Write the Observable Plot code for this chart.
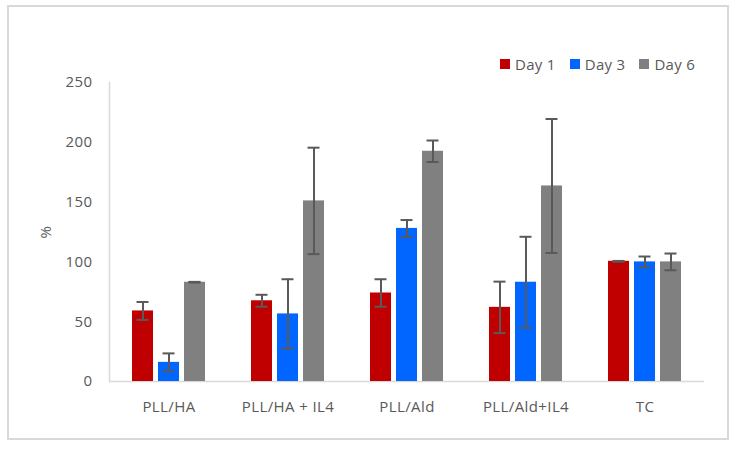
<!DOCTYPE html>
<html>
<head>
<meta charset="utf-8">
<script src="https://cdn.jsdelivr.net/npm/d3@7"></script>
<script src="https://cdn.jsdelivr.net/npm/@observablehq/plot@0.6"></script>
<style>
  body { margin: 0; background: #fff; font-family: "Open Sans", sans-serif; }
  #wrap { position: relative; width: 740px; height: 450px; }
  #border { position: absolute; left: 7px; top: 5px; width: 722px; height: 435px; border: 2px solid #d9d9d9; box-sizing: border-box; pointer-events: none; }
  #legend { position: absolute; top: 53px; left: 500px; display: flex; gap: 14px; font-size: 15px; letter-spacing: 0.3px; color: #595959; line-height: 22px; }
  #legend .item { display: flex; align-items: center; gap: 5px; }
  #legend .sw { width: 10px; height: 10px; display: inline-block; }
  svg text { letter-spacing: 0.4px; }
</style>
</head>
<body>
<div id="wrap"></div>
<script>
const groups = ["PLL/HA", "PLL/HA + IL4", "PLL/Ald", "PLL/Ald+IL4", "TC"];
const days = ["Day 1", "Day 3", "Day 6"];
const colors = ["#c00000", "#0066ff", "#808080"];
const day1 = [59, 67.5, 74, 62, 100.5];
const day3 = [16, 56.5, 128, 83, 100];
const day6 = [83, 151, 192.5, 163.5, 100];
const err1 = [7.5, 5, 11.5, 21.5, 0.3];
const err3 = [7.5, 29, 7, 38, 4.5];
const err6 = [0.3, 44.5, 9, 56, 7];
const yTicks = [0, 50, 100, 150, 200, 250];

const series = [day1, day3, day6];
const errs = [err1, err3, err6];
const rows = groups.flatMap((g, i) => days.map((d, j) => ({
  group: g, day: d, value: series[j][i], err: errs[j][i]
})));

const chart = Plot.plot({
  width: 740, height: 450,
  marginLeft: 107, marginRight: 34, marginTop: 82, marginBottom: 69,
  style: { fontFamily: "Open Sans, sans-serif", fontSize: "15px", color: "#595959", background: "transparent" },
  fx: { domain: groups, padding: 0, label: null },
  x: { domain: days, paddingInner: 0.21, paddingOuter: 0.87, axis: null },
  y: { domain: [0, 250] },
  color: { domain: days, range: colors },
  marks: [
    Plot.frame({ anchor: "left", facetAnchor: "left", stroke: "#d9d9d9", strokeWidth: 1.5 }),
    Plot.ruleY([0], { stroke: "#d9d9d9", strokeWidth: 1.5 }),
    Plot.barY(rows, { fx: "group", x: "day", y: "value", fill: "day" }),
    Plot.ruleX(rows, { fx: "group", x: "day", y1: d => d.value - d.err, y2: d => d.value + d.err, stroke: "#595959", strokeWidth: 2 }),
    Plot.tickY(rows, { fx: "group", x: "day", y: d => d.value + d.err, stroke: "#595959", strokeWidth: 2, inset: 4.5 }),
    Plot.tickY(rows, { fx: "group", x: "day", y: d => d.value - d.err, stroke: "#595959", strokeWidth: 2, inset: 4.5 }),
    Plot.axisY({ ticks: yTicks, tickSize: 0, tickPadding: 17, label: "%", labelArrow: "none", labelAnchor: "center", labelOffset: 69, fill: "#595959" }),
    Plot.axisFx({ anchor: "bottom", tickSize: 0, tickPadding: 20, label: null, fill: "#595959" })
  ]
});

const wrap = document.getElementById("wrap");
wrap.appendChild(chart);
const legend = document.createElement("div");
legend.id = "legend";
days.forEach((d, j) => {
  const it = document.createElement("div");
  it.className = "item";
  const sw = document.createElement("span");
  sw.className = "sw";
  sw.style.background = colors[j];
  const t = document.createElement("span");
  t.textContent = d;
  it.appendChild(sw); it.appendChild(t);
  legend.appendChild(it);
});
wrap.appendChild(legend);
const border = document.createElement("div");
border.id = "border";
wrap.appendChild(border);
</script>
</body>
</html>
